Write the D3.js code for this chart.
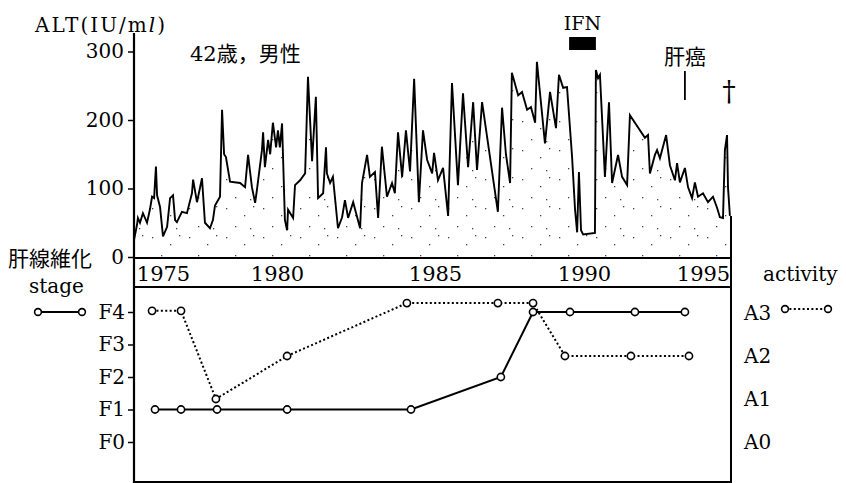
<!DOCTYPE html>
<html><head><meta charset="utf-8">
<script src="https://cdn.jsdelivr.net/npm/d3@7"></script>
<style>html,body{margin:0;padding:0;background:#fff;} svg{display:block;}</style>
</head><body><svg id="c" width="846" height="483"></svg>
<script>
// ---------- data ----------
const yearTicks = [1975, 1980, 1985, 1990, 1995];
const altTicks = [0, 100, 200, 300];
const altDates = [
 1973.73,1973.86,1973.90,1973.99,1974.12,1974.30,1974.43,1974.52,1974.61,1974.69,
 1974.74,1974.87,1975.00,1975.18,1975.31,1975.44,1975.53,1975.61,1975.83,1976.05,
 1976.27,1976.32,1976.49,1976.71,1976.84,1977.06,1977.19,1977.28,1977.50,1977.59,
 1977.68,1977.76,1977.94,1978.38,1978.60,1978.73,1978.90,1979.04,1979.12,1979.34,
 1979.39,1979.47,1979.61,1979.70,1979.82,1979.96,1980.03,1980.09,1980.16,1980.25,
 1980.32,1980.35,1980.51,1980.57,1980.73,1980.89,1980.98,1981.11,1981.23,1981.30,
 1981.46,1981.55,1981.58,1981.68,1981.77,1981.93,1982.06,1982.15,1982.25,1982.41,
 1982.63,1982.69,1982.85,1982.94,1983.10,1983.20,1983.32,1983.48,1983.64,1983.73,
 1983.83,1983.96,1984.08,1984.21,1984.34,1984.49,1984.62,1984.75,1984.91,1984.97,
 1985.10,1985.27,1985.44,1985.57,1985.77,1985.94,1986.11,1986.28,1986.41,1986.58,
 1987.11,1987.25,1987.38,1987.52,1987.58,1987.79,1987.92,1988.09,1988.22,1988.36,
 1988.42,1988.69,1988.86,1989.06,1989.16,1989.30,1989.43,1989.60,1989.70,1989.77,
 1989.83,1989.90,1989.97,1990.46,1990.50,1990.59,1990.67,1990.88,1991.05,1991.18,
 1991.43,1991.60,1991.81,1991.93,1992.56,1992.69,1992.77,1992.98,1993.07,1993.19,
 1993.45,1993.61,1993.82,1993.91,1994.03,1994.24,1994.37,1994.54,1994.66,1994.79,
 1995.00,1995.21,1995.42,1995.59,1995.71,1995.84,1995.92,1996.01,1996.05,1996.13
];
const altValues = [
 25,47,57,50,64,50,70,88,86,132,
 90,73,30,44,86,90,54,51,66,64,
 93,113,80,115,50,42,54,75,88,215,
 150,146,110,108,102,149,102,79,98,156,
 182,131,171,150,196,160,185,160,195,54,
 39,69,57,105,112,122,263,140,234,86,
 93,160,122,108,117,42,58,83,57,80,
 42,108,149,117,124,57,161,88,108,93,
 182,117,185,125,260,80,185,142,122,152,
 112,130,60,254,105,239,131,226,127,226,
 66,218,150,108,269,236,241,215,219,196,
 285,166,241,188,266,247,248,146,69,36,
 124,39,33,35,273,261,266,117,226,108,
 149,117,105,207,174,178,122,149,156,144,
 178,134,112,137,109,130,102,86,109,88,
 93,80,88,72,58,57,156,178,102,60
];
const stageLabels = ["F0","F1","F2","F3","F4"];
const activityLabels = ["A0","A1","A2","A3"];
const stageDates = [1974.65,1975.79,1977.37,1980.32,1984.24,1987.21,1988.29,1989.53,1992.14,1994.24];
const stageValues = [1,1,1,1,1,2,4,4,4,4];
const activityDates = [1974.52,1975.79,1977.32,1980.32,1984.11,1987.11,1988.29,1989.36,1991.97,1994.41];
const activityValues = [3.05,3.05,1.0,2.0,3.23,3.23,3.23,2.0,2.0,2.0];
const ifnPeriod = [1989.5, 1990.5];
const hccDate = 1994.24;
const deathDate = 1996.09;

// ---------- layout ----------
const svg = d3.select("#c");
const L = 134, R = 731;
const serif = "'DejaVu Serif', serif";
const cjk = "'DejaVu Serif', 'Noto Sans CJK JP', serif";

const x = d3.scaleLinear().domain(yearTicks).range([163, 277, 435, 584, 703]);
const yAlt = d3.scaleLinear().domain([0, 300]).range([257, 51.5]);
const yStage = d3.scaleLinear().domain([0, 4]).range([442, 312]);
const yAct = d3.scaleLinear().domain([0, 3]).range([442, 313]);

// sparse stipple pattern
const defs = svg.append("defs");
const pat = defs.append("pattern").attr("id", "stip").attr("patternUnits", "userSpaceOnUse")
  .attr("width", 37).attr("height", 29);
[[4,5],[22,12],[31,3],[13,23],[28,25]].forEach(p => pat.append("rect")
  .attr("x", p[0]).attr("y", p[1]).attr("width", 1.3).attr("height", 1.3).attr("fill", "#444"));

const alt = altDates.map((t, i) => ({t, v: altValues[i]}));

svg.append("path").datum(alt)
  .attr("d", d3.area().x(d => x(d.t)).y0(yAlt(0)).y1(d => yAlt(d.v)))
  .attr("fill", "url(#stip)");

svg.append("path").datum(alt)
  .attr("d", d3.line().x(d => x(d.t)).y(d => yAlt(d.v)))
  .attr("fill", "none").attr("stroke", "#000").attr("stroke-width", 1.9).attr("stroke-linejoin", "miter");

// frames
const frame = svg.append("g").attr("stroke", "#000").attr("fill", "none");
frame.append("line").attr("x1", L).attr("x2", L).attr("y1", 33).attr("y2", 483).attr("stroke-width", 2.2);
frame.append("line").attr("x1", L).attr("x2", R).attr("y1", yAlt(0)+1).attr("y2", yAlt(0)+1).attr("stroke-width", 2);
frame.append("line").attr("x1", L).attr("x2", R).attr("y1", 287).attr("y2", 287).attr("stroke-width", 2);
frame.append("line").attr("x1", L).attr("x2", R).attr("y1", 482).attr("y2", 482).attr("stroke-width", 2);
frame.append("line").attr("x1", R).attr("x2", R).attr("y1", yAlt(altValues[altValues.length-1])).attr("y2", 483).attr("stroke-width", 2);

// ALT axis
const ax1 = svg.append("g").attr("transform", `translate(${L},0)`)
  .call(d3.axisLeft(yAlt).tickValues(altTicks).tickSize(6).tickPadding(4));
ax1.select(".domain").remove();
ax1.selectAll("line").attr("stroke-width", 1.5);
ax1.selectAll("text").attr("font-family", serif).attr("font-size", 20).attr("fill", "#000");

// year labels
const ax2 = svg.append("g").attr("transform", `translate(0,${yAlt(0)+1})`)
  .call(d3.axisBottom(x).tickValues(yearTicks).tickFormat(d3.format("d")).tickSize(0).tickPadding(8));
ax2.select(".domain").remove();
ax2.selectAll("text").attr("font-family", serif).attr("font-size", 21).attr("fill", "#000");

// stage axis
const ax3 = svg.append("g").attr("transform", `translate(${L},0)`)
  .call(d3.axisLeft(yStage).tickValues([0,1,2,3,4]).tickFormat(d => stageLabels[d]).tickSize(6).tickPadding(3));
ax3.select(".domain").remove();
ax3.selectAll("line").attr("stroke-width", 1.5);
ax3.selectAll("text").attr("font-family", serif).attr("font-size", 20).attr("fill", "#000");

// activity axis
const ax4 = svg.append("g").attr("transform", `translate(${R},0)`)
  .call(d3.axisRight(yAct).tickValues([0,1,2,3]).tickFormat(d => activityLabels[d]).tickSize(0).tickPadding(13));
ax4.select(".domain").remove();
ax4.selectAll("text").attr("font-family", serif).attr("font-size", 20).attr("fill", "#000");

// lower series
const act = activityDates.map((t, i) => ({t, v: activityValues[i]}));
const stg = stageDates.map((t, i) => ({t, v: stageValues[i]}));

svg.append("path").datum(act)
  .attr("d", d3.line().x(d => x(d.t)).y(d => yAct(d.v)))
  .attr("fill", "none").attr("stroke", "#000").attr("stroke-width", 2).attr("stroke-dasharray", "2,2.4");
svg.append("path").datum(stg)
  .attr("d", d3.line().x(d => x(d.t)).y(d => yStage(d.v)))
  .attr("fill", "none").attr("stroke", "#000").attr("stroke-width", 2);

svg.append("g").selectAll("circle").data(act).join("circle")
  .attr("cx", d => x(d.t)).attr("cy", d => yAct(d.v)).attr("r", 3.6)
  .attr("fill", "#fff").attr("stroke", "#000").attr("stroke-width", 1.6);
svg.append("g").selectAll("circle").data(stg).join("circle")
  .attr("cx", d => x(d.t)).attr("cy", d => yStage(d.v)).attr("r", 3.6)
  .attr("fill", "#fff").attr("stroke", "#000").attr("stroke-width", 1.6);

// legends
const lg = svg.append("g");
lg.append("line").attr("x1", 38).attr("x2", 82).attr("y1", yStage(4)).attr("y2", yStage(4))
  .attr("stroke", "#000").attr("stroke-width", 1.8);
[38, 82].forEach(cx => lg.append("circle").attr("cx", cx).attr("cy", yStage(4)).attr("r", 3.4)
  .attr("fill", "#fff").attr("stroke", "#000").attr("stroke-width", 1.6));
lg.append("line").attr("x1", 785).attr("x2", 828).attr("y1", yAct(3)-4).attr("y2", yAct(3)-4)
  .attr("stroke", "#000").attr("stroke-width", 2).attr("stroke-dasharray", "2,2.4");
[785, 828].forEach(cx => lg.append("circle").attr("cx", cx).attr("cy", yAct(3)-4).attr("r", 3.4)
  .attr("fill", "#fff").attr("stroke", "#000").attr("stroke-width", 1.6));

// annotations
const txt = (s, xx, yy, size, anchor, fam) => svg.append("text").attr("x", xx).attr("y", yy)
  .attr("font-size", size).attr("font-family", fam || serif).attr("text-anchor", anchor || "start").text(s);

const t1 = svg.append("text").attr("x", 35).attr("y", 32).attr("font-family", serif).attr("font-size", 20)
  .attr("textLength", 130).attr("lengthAdjust", "spacing");
t1.append("tspan").text("ALT(IU/m");
t1.append("tspan").attr("font-style", "italic").text("l");
t1.append("tspan").text(")");

txt("42歳，男性", 190, 61, 21, "start", cjk);
txt("IFN", (x(ifnPeriod[0]) + x(ifnPeriod[1])) / 2, 30, 19, "middle");
svg.append("rect").attr("x", x(ifnPeriod[0])).attr("width", x(ifnPeriod[1]) - x(ifnPeriod[0]))
  .attr("y", 37).attr("height", 13).attr("fill", "#000");
txt("肝癌", x(hccDate), 64, 21, "middle", cjk);
svg.append("line").attr("x1", x(hccDate)).attr("x2", x(hccDate)).attr("y1", 71).attr("y2", 100)
  .attr("stroke", "#000").attr("stroke-width", 1.8);
txt("†", x(deathDate), 101, 27, "middle");
txt("肝線維化", 8, 266, 21, "start", cjk);
txt("stage", 29, 293, 20, "start");
txt("activity", 763, 281, 20, "start");
</script></body></html>
